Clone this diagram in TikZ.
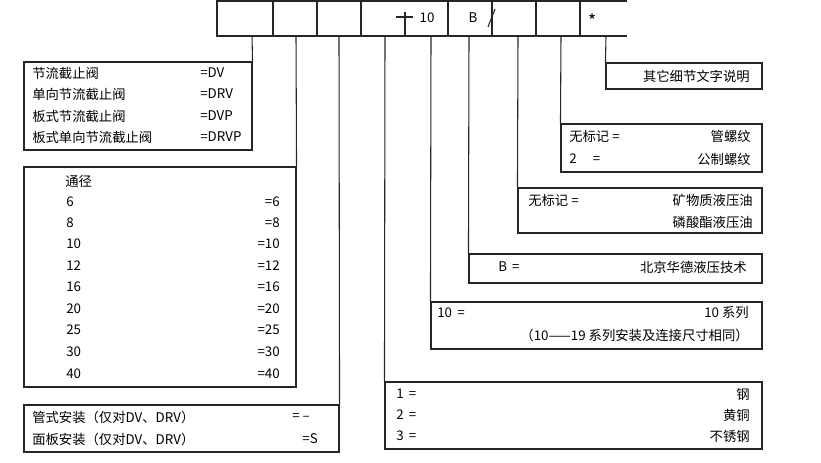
\documentclass[tikz,border=0pt]{standalone}
\usepackage{fontspec}
\setmainfont{Noto Sans CJK SC}
\usetikzlibrary{fit}
\begin{document}
\begin{tikzpicture}[x=0.75pt,y=-0.75pt,
  ln/.style={line width=0.8pt, draw=black!85},
  box/.style={ln, draw, inner sep=0pt, fill=none},
  lbl/.style={inner sep=0pt, anchor=west, text=black, font=\fontsize{10}{12}\selectfont},
  rlbl/.style={lbl, anchor=east}]
\useasboundingbox (0,0) rectangle (821,463);
% top code strip
\draw[ln] (627,1) -- (217,1) -- (217,36) -- (627,36);
\foreach \x in {273,317,361,448,492,536,580} \draw[ln] (\x,1) -- (\x,36);
\draw[ln] (405,12) -- (405,36);
\draw[ln] (396,17) -- (413,17);
\node[lbl, anchor=center] (t10) at (427,18) {10};
\node[lbl, anchor=center] (tB) at (473,18) {B};
\draw[ln] (488,27) -- (495,9);
\node[lbl, anchor=center, font=\fontsize{13}{14}\selectfont] (tstar) at (593,21) {*};
% strip exits
\coordinate (s1) at (252,36);
\coordinate (s2) at (296,36);
\coordinate (s3) at (339,36);
\coordinate (s4) at (385,36);
\coordinate (s5) at (431,36);
\coordinate (s6) at (469,36);
\coordinate (s7) at (518,36);
\coordinate (s8) at (561,36);
\coordinate (s9) at (606,36);
% boxes
\node[box, fit={(24,62) (252,150)}] (A) {};
\node[box, fit={(24,167) (296,387)}] (B) {};
\node[box, fit={(24,405) (339,452)}] (C) {};
\node[box, fit={(385,382) (762,449)}] (D) {};
\node[box, fit={(431,302) (762,349)}] (E) {};
\node[box, fit={(469,254) (762,283)}] (F) {};
\node[box, fit={(518,188) (762,233)}] (G) {};
\node[box, fit={(561,124) (762,172)}] (H) {};
\node[box, fit={(606,63) (762,89)}] (I) {};
\draw[ln] (s1) -- (A.north east);
\draw[ln] (s2) -- (B.north east);
\draw[ln] (s3) -- (C.north east);
\draw[ln] (s4) -- (D.north west);
\draw[ln] (s5) -- (E.north west);
\draw[ln] (s6) -- (F.north west);
\draw[ln] (s7) -- (G.north west);
\draw[ln] (s8) -- (H.north west);
\draw[ln] (s9) -- (I.north west);
% box A
\node[lbl] (a1) at (32,73) {节流截止阀};
\node[lbl] (a2) at (32,94) {单向节流截止阀};
\node[lbl] (a3) at (32,116) {板式节流截止阀};
\node[lbl] (a4) at (32,137) {板式单向节流截止阀};
\node[lbl] (a1r) at (200,73) {=DV};
\node[lbl] (a2r) at (200,94) {=DRV};
\node[lbl] (a3r) at (200,116) {=DVP};
\node[lbl] (a4r) at (200,137) {=DRVP};
% box B
\node[lbl] (b0) at (65,181) {通径};
\foreach \n/\yy in {6/202,8/223,10/244,12/266,16/287,20/309,25/330,30/352,40/374} {
  \node[lbl] (bl\n) at (66,\yy) {\n};
  \node[rlbl] (br\n) at (280,\yy) {=\n};
}
% box C
\node[lbl] (c1) at (32,417) {管式安装（仅对DV、DRV）};
\node[lbl] (c2) at (32,439) {面板安装（仅对DV、DRV）};
\node[lbl] (c1r) at (292,417) {= --};
\node[rlbl] (c2r) at (318,439) {=S};
% box D
\node[lbl] (d1) at (396,394) {1 \,=};
\node[lbl] (d2) at (396,415) {2 \,=};
\node[lbl] (d3) at (396,436) {3 \,=};
\node[rlbl] (d1r) at (750,394) {钢};
\node[rlbl] (d2r) at (750,415) {黄铜};
\node[rlbl] (d3r) at (750,436) {不锈钢};
% box E
\node[lbl] (e1) at (437,313) {10 \,=};
\node[rlbl] (e1r) at (749,313) {10 系列};
\node[rlbl] (e2r) at (749,335) {（10——19 系列安装及连接尺寸相同）};
% box F
\node[lbl] (f1) at (498,267) {B \,=};
\node[rlbl] (f1r) at (747,267) {北京华德液压技术};
% box G
\node[lbl] (g1) at (528,200) {无标记 =};
\node[rlbl] (g1r) at (753,200) {矿物质液压油};
\node[rlbl] (g2r) at (753,222) {磷酸酯液压油};
% box H
\node[lbl] (h1) at (569,136) {无标记 =};
\node[lbl] (h2) at (569,159) {2 \quad=};
\node[rlbl] (h1r) at (751,136) {管螺纹};
\node[rlbl] (h2r) at (751,159) {公制螺纹};
% box I
\node[rlbl] (i1) at (750,76) {其它细节文字说明};
\end{tikzpicture}
\end{document}
